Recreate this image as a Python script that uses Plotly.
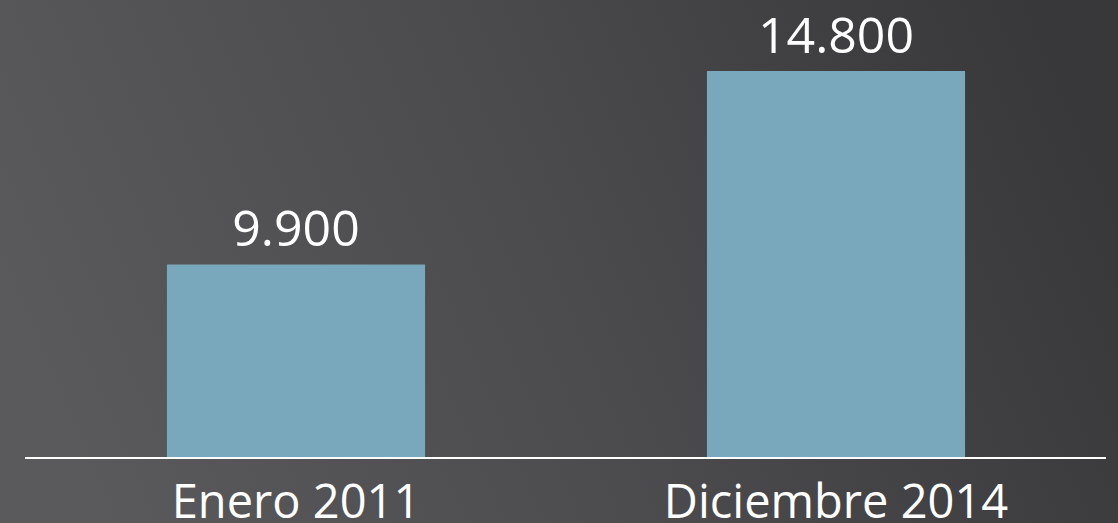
import base64
import plotly.graph_objects as go

# datos
periodos = ['Enero 2011', 'Diciembre 2014']
valores = [9900, 14800]

W, H = 1118, 523
BAR_CLR = '#79a7bb'

# fondo degradado gris horizontal (svg embebido)
_svg = (
    f'<svg xmlns="http://www.w3.org/2000/svg" width="{W}" height="{H}">'
    '<defs><linearGradient id="g" x1="0" y1="0.6" x2="1" y2="0.4">'
    '<stop offset="0" stop-color="#5a5a5c"/>'
    '<stop offset="0.5" stop-color="#4b4b4d"/>'
    '<stop offset="1" stop-color="#38383a"/>'
    '</linearGradient></defs>'
    f'<rect width="{W}" height="{H}" fill="url(#g)"/></svg>'
)
bg_src = 'data:image/svg+xml;base64,' + base64.b64encode(_svg.encode()).decode()

fig = go.Figure()
fig.add_trace(go.Bar(
    x=periodos, y=valores,
    marker=dict(color=BAR_CLR, line=dict(width=0)),
    width=0.478,
    texttemplate='%{y:,}', textposition='outside',
    textfont=dict(size=50, color='#ffffff', family='Open Sans'),
    cliponaxis=False,
    hovertemplate='%{x}: %{y:,}<extra></extra>',
))

# linea base
fig.add_shape(type='line', xref='paper', yref='paper',
              x0=25 / W, x1=1106 / W, y0=65 / H, y1=65 / H,
              line=dict(color='#ffffff', width=2))

fig.update_layout(
    width=W, height=H,
    margin=dict(l=0, r=0, t=0, b=0, pad=0),
    paper_bgcolor='#48484a',
    plot_bgcolor='rgba(0,0,0,0)',
    separators=',.',
    showlegend=False,
    images=[dict(source=bg_src, xref='paper', yref='paper', x=0, y=1,
                 sizex=1, sizey=1, sizing='stretch', layer='below',
                 xanchor='left', yanchor='top')],
    font=dict(family='Open Sans', color='#ffffff'),
    xaxis=dict(
        domain=[26 / W, 1106 / W], range=[-0.5, 1.5],
        showgrid=False, showline=False, zeroline=False, ticks='',
        automargin=False, ticklabelstandoff=12,
        tickfont=dict(size=47, color='#ffffff', family='Open Sans'),
    ),
    yaxis=dict(
        domain=[65 / H, 1], range=[5000, 16595],
        visible=False, showgrid=False, zeroline=False, automargin=False,
    ),
)

# quitar el margen del body para que el grafico ocupe toda la ventana
fig.write_html('out.html', config={'displayModeBar': False},
               post_script="document.body.style.margin='0';"
                           "document.body.style.overflow='hidden';")
